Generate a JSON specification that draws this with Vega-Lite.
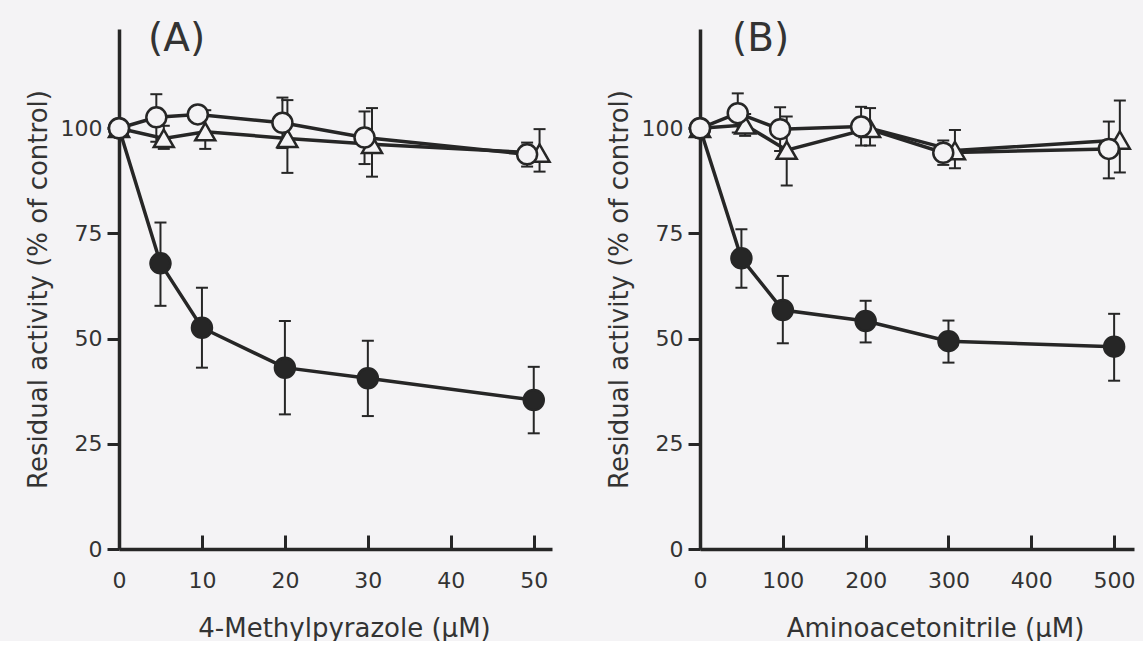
{
  "$schema": "https://vega.github.io/schema/vega-lite/v6.json",
  "background": "#f4f3f5",
  "padding": {"left": 25, "top": 20, "right": 8, "bottom": 0},
  "spacing": 148,
  "bounds": "flush",
  "config": {
    "view": {"stroke": null},
    "font": "DejaVu Sans",
    "axis": {"domainColor": "#262626", "domainWidth": 3.5, "tickColor": "#262626", "tickWidth": 3, "labelColor": "#333333", "titleColor": "#333333", "labelFontSize": 22, "titleFontSize": 26, "titleFontWeight": "normal", "grid": false, "labelFont": "DejaVu Sans", "titleFont": "DejaVu Sans", "labelFlush": false},
    "axisX": {"tickSize": -14, "labelPadding": 35, "titlePadding": 24},
    "axisY": {"tickSize": 12, "labelPadding": 5, "titlePadding": 9}
  },
  "datasets": {
    "d": [
      {"p": "A", "s": "filled", "x": 0, "y": 100, "lo": null, "hi": null},
      {"p": "A", "s": "filled", "x": 5, "y": 67.9, "lo": 57.8, "hi": 77.6},
      {"p": "A", "s": "filled", "x": 10, "y": 52.6, "lo": 43.1, "hi": 62.1},
      {"p": "A", "s": "filled", "x": 20, "y": 43.1, "lo": 32.0, "hi": 54.2},
      {"p": "A", "s": "filled", "x": 30, "y": 40.6, "lo": 31.6, "hi": 49.5},
      {"p": "A", "s": "filled", "x": 50, "y": 35.4, "lo": 27.5, "hi": 43.3},
      {"p": "A", "s": "tri", "x": 0, "y": 100, "lo": null, "hi": null},
      {"p": "A", "s": "tri", "x": 5.4, "y": 97.6, "lo": 95.1, "hi": 100.6},
      {"p": "A", "s": "tri", "x": 10.4, "y": 99.2, "lo": 95.1, "hi": 104.3},
      {"p": "A", "s": "tri", "x": 20.3, "y": 97.6, "lo": 89.4, "hi": 106.7},
      {"p": "A", "s": "tri", "x": 30.5, "y": 96.2, "lo": 88.5, "hi": 104.8},
      {"p": "A", "s": "tri", "x": 50.7, "y": 94.1, "lo": 89.7, "hi": 99.8},
      {"p": "A", "s": "open", "x": 0, "y": 100, "lo": null, "hi": null},
      {"p": "A", "s": "open", "x": 4.5, "y": 102.6, "lo": 96.8, "hi": 108.1},
      {"p": "A", "s": "open", "x": 9.5, "y": 103.3, "lo": null, "hi": null},
      {"p": "A", "s": "open", "x": 19.7, "y": 101.3, "lo": 95.3, "hi": 107.3},
      {"p": "A", "s": "open", "x": 29.6, "y": 97.8, "lo": 91.5, "hi": 104.0},
      {"p": "A", "s": "open", "x": 49.2, "y": 93.8, "lo": 90.9, "hi": 96.6},
      {"p": "B", "s": "filled", "x": 0, "y": 100, "lo": null, "hi": null},
      {"p": "B", "s": "filled", "x": 50, "y": 69.1, "lo": 62.1, "hi": 76.0},
      {"p": "B", "s": "filled", "x": 100, "y": 56.8, "lo": 48.9, "hi": 64.9},
      {"p": "B", "s": "filled", "x": 200, "y": 54.2, "lo": 49.1, "hi": 59.0},
      {"p": "B", "s": "filled", "x": 300, "y": 49.4, "lo": 44.3, "hi": 54.3},
      {"p": "B", "s": "filled", "x": 500, "y": 48.1, "lo": 40.0, "hi": 55.9},
      {"p": "B", "s": "tri", "x": 0, "y": 100, "lo": null, "hi": null},
      {"p": "B", "s": "tri", "x": 54.5, "y": 100.8, "lo": 98.2, "hi": 103.4},
      {"p": "B", "s": "tri", "x": 104.7, "y": 94.8, "lo": 86.4, "hi": 102.8},
      {"p": "B", "s": "tri", "x": 205.3, "y": 100.0, "lo": 95.9, "hi": 104.8},
      {"p": "B", "s": "tri", "x": 307.8, "y": 94.7, "lo": 90.5, "hi": 99.6},
      {"p": "B", "s": "tri", "x": 506.9, "y": 97.2, "lo": 89.5, "hi": 106.6},
      {"p": "B", "s": "open", "x": 0, "y": 100, "lo": null, "hi": null},
      {"p": "B", "s": "open", "x": 45.6, "y": 103.6, "lo": 99.0, "hi": 108.3},
      {"p": "B", "s": "open", "x": 96.7, "y": 99.8, "lo": 94.6, "hi": 105.0},
      {"p": "B", "s": "open", "x": 194.5, "y": 100.4, "lo": 95.9, "hi": 105.1},
      {"p": "B", "s": "open", "x": 293.7, "y": 94.2, "lo": 91.3, "hi": 97.1},
      {"p": "B", "s": "open", "x": 493.6, "y": 95.1, "lo": 88.1, "hi": 101.6}
    ]
  },
  "hconcat": [
    {
      "title": {"text": "(A)", "anchor": "start", "frame": "group", "baseline": "top", "offset": -30, "dx": 29, "fontSize": 39, "fontWeight": "normal", "color": "#333333", "font": "DejaVu Sans"},
      "width": 433,
      "height": 520,
      "data": {"name": "d"},
      "transform": [{"filter": "datum.p === 'A'"}],
      "encoding": {
        "x": {"field": "x", "type": "quantitative", "scale": {"domain": [0, 52.2], "nice": false, "zero": false}, "axis": {"values": [0, 10, 20, 30, 40, 50], "title": "4-Methylpyrazole (μM)", "titleX": 225}}
      },
      "layer": [
        {"transform": [{"filter": "datum.lo != null"}], "mark": {"type": "rule", "color": "#262626", "strokeWidth": 2}, "encoding": {"y": {"field": "lo", "type": "quantitative", "scale": {"domain": [0, 123.6], "nice": false}, "axis": {"values": [0, 25, 50, 75, 100], "title": "Residual activity (% of control)"}}, "y2": {"field": "hi"}}},
        {"transform": [{"filter": "datum.lo != null"}], "mark": {"type": "tick", "orient": "horizontal", "size": 12, "thickness": 2, "color": "#262626", "opacity": 1}, "encoding": {"y": {"field": "lo", "type": "quantitative", "scale": {"domain": [0, 123.6], "nice": false}, "axis": {"values": [0, 25, 50, 75, 100], "title": "Residual activity (% of control)"}}}},
        {"transform": [{"filter": "datum.lo != null"}], "mark": {"type": "tick", "orient": "horizontal", "size": 12, "thickness": 2, "color": "#262626", "opacity": 1}, "encoding": {"y": {"field": "hi", "type": "quantitative", "scale": {"domain": [0, 123.6], "nice": false}, "axis": {"values": [0, 25, 50, 75, 100], "title": "Residual activity (% of control)"}}}},
        {"mark": {"type": "line", "color": "#262626", "strokeWidth": 3.5}, "encoding": {"y": {"field": "y", "type": "quantitative", "scale": {"domain": [0, 123.6], "nice": false}, "axis": {"values": [0, 25, 50, 75, 100], "title": "Residual activity (% of control)"}}, "detail": {"field": "s"}}},
        {"mark": {"type": "point", "filled": true, "opacity": 1, "stroke": "#262626", "strokeWidth": 2.5, "size": 400}, "encoding": {"y": {"field": "y", "type": "quantitative", "scale": {"domain": [0, 123.6], "nice": false}, "axis": {"values": [0, 25, 50, 75, 100], "title": "Residual activity (% of control)"}}, "shape": {"field": "s", "type": "nominal", "scale": {"domain": ["open", "tri", "filled"], "range": ["circle", "triangle-up", "circle"]}, "legend": null}, "fill": {"field": "s", "type": "nominal", "scale": {"domain": ["open", "tri", "filled"], "range": ["#f4f3f5", "#f4f3f5", "#262626"]}, "legend": null}}}
      ]
    },
    {
      "title": {"text": "(B)", "anchor": "start", "frame": "group", "baseline": "top", "offset": -30, "dx": 32, "fontSize": 39, "fontWeight": "normal", "color": "#333333", "font": "DejaVu Sans"},
      "width": 434,
      "height": 520,
      "data": {"name": "d"},
      "transform": [{"filter": "datum.p === 'B'"}],
      "encoding": {
        "x": {"field": "x", "type": "quantitative", "scale": {"domain": [0, 524], "nice": false, "zero": false}, "axis": {"values": [0, 100, 200, 300, 400, 500], "title": "Aminoacetonitrile (μM)", "titleX": 235}}
      },
      "layer": [
        {"transform": [{"filter": "datum.lo != null"}], "mark": {"type": "rule", "color": "#262626", "strokeWidth": 2}, "encoding": {"y": {"field": "lo", "type": "quantitative", "scale": {"domain": [0, 123.6], "nice": false}, "axis": {"values": [0, 25, 50, 75, 100], "title": "Residual activity (% of control)"}}, "y2": {"field": "hi"}}},
        {"transform": [{"filter": "datum.lo != null"}], "mark": {"type": "tick", "orient": "horizontal", "size": 12, "thickness": 2, "color": "#262626", "opacity": 1}, "encoding": {"y": {"field": "lo", "type": "quantitative", "scale": {"domain": [0, 123.6], "nice": false}, "axis": {"values": [0, 25, 50, 75, 100], "title": "Residual activity (% of control)"}}}},
        {"transform": [{"filter": "datum.lo != null"}], "mark": {"type": "tick", "orient": "horizontal", "size": 12, "thickness": 2, "color": "#262626", "opacity": 1}, "encoding": {"y": {"field": "hi", "type": "quantitative", "scale": {"domain": [0, 123.6], "nice": false}, "axis": {"values": [0, 25, 50, 75, 100], "title": "Residual activity (% of control)"}}}},
        {"mark": {"type": "line", "color": "#262626", "strokeWidth": 3.5}, "encoding": {"y": {"field": "y", "type": "quantitative", "scale": {"domain": [0, 123.6], "nice": false}, "axis": {"values": [0, 25, 50, 75, 100], "title": "Residual activity (% of control)"}}, "detail": {"field": "s"}}},
        {"mark": {"type": "point", "filled": true, "opacity": 1, "stroke": "#262626", "strokeWidth": 2.5, "size": 400}, "encoding": {"y": {"field": "y", "type": "quantitative", "scale": {"domain": [0, 123.6], "nice": false}, "axis": {"values": [0, 25, 50, 75, 100], "title": "Residual activity (% of control)"}}, "shape": {"field": "s", "type": "nominal", "scale": {"domain": ["open", "tri", "filled"], "range": ["circle", "triangle-up", "circle"]}, "legend": null}, "fill": {"field": "s", "type": "nominal", "scale": {"domain": ["open", "tri", "filled"], "range": ["#f4f3f5", "#f4f3f5", "#262626"]}, "legend": null}}}
      ]
    }
  ]
}
